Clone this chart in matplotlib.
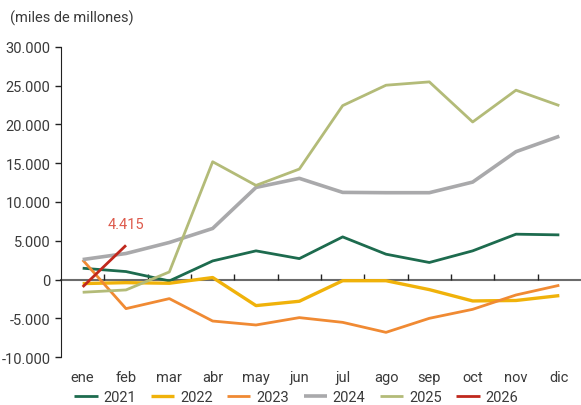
import matplotlib
matplotlib.use("Agg")
import matplotlib.pyplot as plt
from matplotlib.ticker import FuncFormatter

# monthly values (miles de millones)
months = ["ene", "feb", "mar", "abr", "may", "jun", "jul", "ago", "sep", "oct", "nov", "dic"]
y2021 = [1460, 1030, -180, 2400, 3700, 2700, 5500, 3270, 2200, 3700, 5850, 5760]
y2022 = [-520, -400, -480, 260, -3360, -2800, -150, -150, -1300, -2760, -2700, -2070]
y2023 = [2530, -3750, -2460, -5350, -5860, -4910, -5520, -6810, -5000, -3840, -1990, -740]
y2024 = [2580, 3360, 4780, 6590, 11880, 13050, 11240, 11200, 11200, 12570, 16490, 18480]
y2025 = [-1640, -1340, 980, 15190, 12140, 14250, 22430, 25060, 25490, 20320, 24420, 22430]
y2026 = [-950, 4415]

series = [
    ("2021", y2021, "#1d6b4e", 2.0),
    ("2022", y2022, "#f0b20a", 2.4),
    ("2023", y2023, "#f08a33", 2.0),
    ("2024", y2024, "#a9a9ab", 2.6),
    ("2025", y2025, "#b3bb78", 2.0),
    ("2026", y2026, "#c0281d", 2.0),
]

plt.rcParams["font.family"] = ["Roboto", "DejaVu Sans"]
txt = "#3a3a3a"
fs = 10.5

fig = plt.figure(figsize=(5.81, 4.06), dpi=100)
ax = fig.add_axes([0.105, 0.118, 0.895, 0.764])

x = list(range(len(months)))
for name, vals, col, lw in series:
    ax.plot(x[:len(vals)], vals, color=col, lw=lw, label=name, solid_capstyle="butt")

ax.annotate("4.415", (1, y2026[1]), xytext=(0, 10), textcoords="offset points",
            ha="center", va="bottom", color="#dd5a4c", fontsize=fs)

ax.set_xlim(-0.5, 11.5)
ax.set_ylim(-10000, 30000)
ax.set_yticks(range(-10000, 30001, 5000))
ax.yaxis.set_major_formatter(FuncFormatter(lambda v, p: f"{int(v):,}".replace(",", ".")))
ax.tick_params(axis="y", direction="out", length=4, width=1, colors="#222", labelcolor=txt, labelsize=fs)

for s in ["top", "right"]:
    ax.spines[s].set_visible(False)
ax.spines["left"].set_color("#222")
ax.spines["bottom"].set_position(("data", 0))
ax.spines["bottom"].set_color("#6b6b6b")
ax.spines["bottom"].set_linewidth(1.5)
ax.spines["bottom"].set_zorder(0)

ax.set_xticks(x)
ax.set_xticklabels([])
ax.tick_params(axis="x", which="major", length=0)
ax.set_xticks([i + 0.5 for i in range(11)], minor=True)
ax.tick_params(axis="x", which="minor", direction="in", length=4, width=1, colors="#222")

for i, m in enumerate(months):
    ax.text(i, -0.065, m, transform=ax.get_xaxis_transform(), ha="center", va="center",
            color=txt, fontsize=fs)

fig.text(0.017, 0.955, "(miles de millones)", ha="left", va="center", color=txt, fontsize=fs)

fig.legend(loc="lower center", bbox_to_anchor=(0.51, 0.002), ncol=6, frameon=False,
           borderpad=0, borderaxespad=0, handlelength=1.6, columnspacing=1.0,
           handletextpad=0.4, prop={"size": fs}, labelcolor=txt)

fig.savefig("out.png", dpi=100)
